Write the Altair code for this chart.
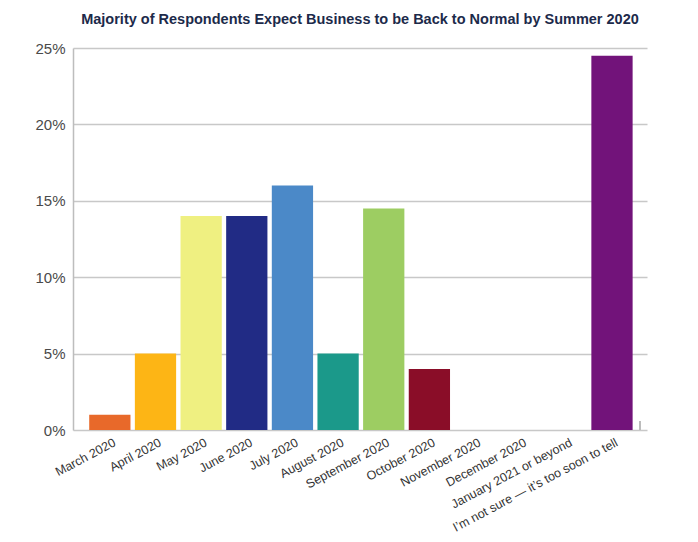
import altair as alt
import pandas as pd

categories = ["March 2020", "April 2020", "May 2020", "June 2020", "July 2020",
              "August 2020", "September 2020", "October 2020", "November 2020",
              "December 2020", "January 2021 or beyond",
              "I\u2019m not sure \u2014 it\u2019s too soon to tell"]
values = [1.0, 5.0, 14.0, 14.0, 16.0, 5.0, 14.5, 4.0, 0.0, 0.0, 0.0, 24.5]
colors = ["#E8692A", "#FDB515", "#EFF081", "#212B85", "#4B89C8", "#1B998A",
          "#9DCD62", "#8A0D28", "#CCCCCC", "#CCCCCC", "#CCCCCC", "#72137A"]
y_ticks = [0, 5, 10, 15, 20, 25]

df = pd.DataFrame({"category": categories, "value": values})

FONT = "Liberation Sans"

bars = alt.Chart(df).mark_bar().encode(
    x=alt.X("category:N", sort=categories,
            scale=alt.Scale(paddingInner=0.096, paddingOuter=0.335, align=0.53),
            axis=alt.Axis(title=None, labelAngle=332, labelAlign="right",
                          labelBaseline="top", labelFont=FONT, labelFontSize=12.5,
                          labelColor="#333333", ticks=False, domain=False,
                          labelPadding=6, labelOffset=2, labelLimit=300)),
    y=alt.Y("value:Q", scale=alt.Scale(domain=[0, 25], nice=False),
            axis=alt.Axis(title=None, values=y_ticks,
                          labelExpr="datum.value + '%'", labelFont=FONT,
                          labelFontSize=15, labelColor="#4a4a4a", ticks=False,
                          labelPadding=8, domain=True, domainColor="#bdbdbd",
                          domainWidth=1.5, gridColor="#c8c8c8", gridWidth=1.5)),
    color=alt.Color("category:N", sort=categories,
                    scale=alt.Scale(domain=categories, range=colors), legend=None),
)

end_tick = alt.Chart(df).mark_rule(color="#bdbdbd", strokeWidth=1.5).encode(
    x=alt.value(567), y=alt.value(373), y2=alt.value(382)
)

chart = alt.layer(bars, end_tick).properties(
    width=574, height=382,
    padding={"left": 65, "top": 40, "right": 10, "bottom": 110},
    autosize=alt.AutoSizeParams(type="none"),
    title=alt.TitleParams(
        "Majority of Respondents Expect Business to be Back to Normal by Summer 2020",
        font=FONT, fontSize=14.5, fontWeight="bold", color="#1c2a4a",
        anchor="middle", offset=14),
).configure_view(stroke=None)

chart.save("out.html", embed_options={"renderer": "svg", "actions": False})
